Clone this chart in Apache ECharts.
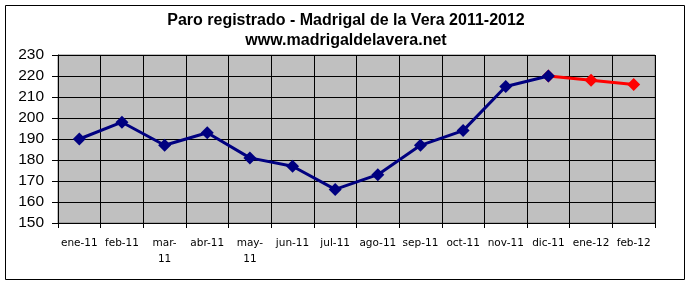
<!DOCTYPE html>
<html><head><meta charset="utf-8">
<script src="https://cdn.jsdelivr.net/npm/echarts@6/dist/echarts.min.js"></script>
<style>html,body{margin:0;padding:0;background:#fff}#c{width:692px;height:284px}</style>
</head><body><div id="c"></div>
<script>
const categories = ['ene-11','feb-11','mar-11','abr-11','may-11','jun-11','jul-11','ago-11','sep-11','oct-11','nov-11','dic-11','ene-12','feb-12'];
const series2011 = [190,198,187,193,181,177,166,173,187,194,215,220,null,null];
const series2012 = [null,null,null,null,null,null,null,null,null,null,null,220,218,216];
const yTicks = [150,230,10];

const chart = echarts.init(document.getElementById('c'));
chart.setOption({
  animation:false,
  backgroundColor:'#fff',
  graphic:[{type:'rect',shape:{x:5.5,y:5.5,width:679,height:274},style:{fill:'none',stroke:'#000',lineWidth:1},silent:true}],
  title:{text:'Paro registrado - Madrigal de la Vera 2011-2012\nwww.madrigaldelavera.net',left:'center',top:6,
    textStyle:{fontFamily:'Liberation Sans, Arial',fontSize:16,fontWeight:'bold',color:'#000',lineHeight:20}},
  grid:{left:58,right:37,top:55,bottom:61,show:true,backgroundColor:'#C0C0C0',borderColor:'#808080',borderWidth:1},
  xAxis:{type:'category',data:categories,boundaryGap:true,
    axisLine:{lineStyle:{color:'#000',width:1}},
    axisTick:{show:true,alignWithLabel:false,length:5,inside:false,lineStyle:{color:'#000'}},
    splitLine:{show:true,lineStyle:{color:'#000',width:1}},
    axisLabel:{interval:0,margin:12,fontFamily:'DejaVu Sans, Tahoma',fontSize:10.5,color:'#000',lineHeight:16,
      formatter:v=> (v.startsWith('mar')||v.startsWith('may')) ? v.replace('-','-\n') : v}},
  yAxis:{type:'value',min:yTicks[0],max:yTicks[1],interval:yTicks[2],
    axisLine:{show:true,lineStyle:{color:'#000'}},
    axisTick:{show:true,length:6,lineStyle:{color:'#000'}},
    splitLine:{show:true,lineStyle:{color:'#000',width:1}},
    axisLabel:{margin:14,fontFamily:'Liberation Sans, Arial',fontSize:15.5,color:'#000'}},
  series:[
    {type:'line',data:series2012,symbol:'diamond',symbolSize:13,connectNulls:false,
      lineStyle:{color:'#FF0000',width:3},itemStyle:{color:'#FF0000'},z:2},
    {type:'line',data:series2011,symbol:'diamond',symbolSize:13,
      lineStyle:{color:'#000080',width:3},itemStyle:{color:'#000080'},z:3}
  ]
});
</script></body></html>
